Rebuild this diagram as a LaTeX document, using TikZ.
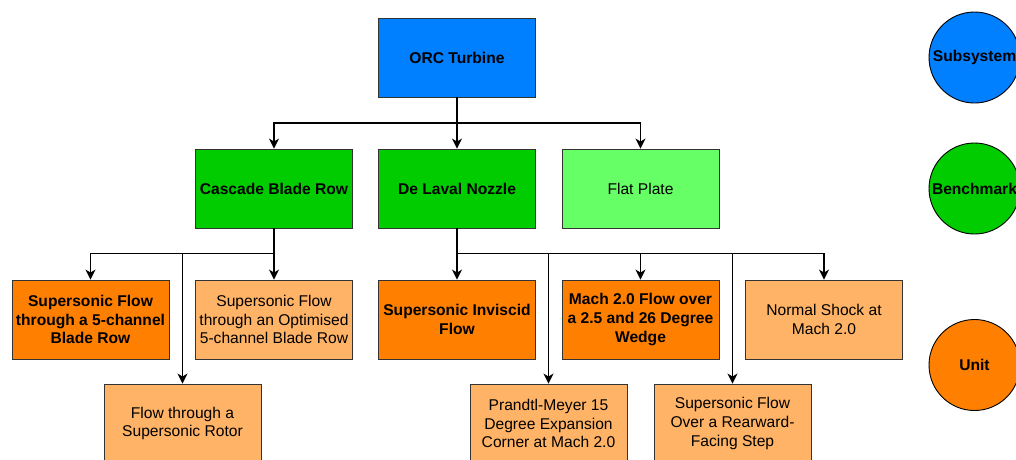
\documentclass[tikz,border=0pt]{standalone}
\usepackage{fontspec}
\setmainfont{Liberation Sans}
\usetikzlibrary{arrows.meta}
\definecolor{subsys}{HTML}{007FFF}
\definecolor{bench}{HTML}{00CC00}
\definecolor{benchlt}{HTML}{66FF66}
\definecolor{unitdk}{HTML}{FF8000}
\definecolor{unitlt}{HTML}{FFB366}
\definecolor{edge}{HTML}{333333}
\tikzset{
  box/.style={draw=edge, line width=0.9pt, minimum width=157pt, minimum height=79pt,
    inner sep=0pt, align=center, font=\fontsize{15.6}{18.6}\selectfont},
  keybox/.style={box, font=\fontsize{15.6}{18.6}\selectfont\bfseries},
  legend/.style={draw=black, line width=0.9pt, circle, minimum size=91pt, inner sep=0pt,
    font=\fontsize{15.6}{18.6}\selectfont\bfseries},
  arr/.style={draw=black, line width=1.1pt, -{Stealth[length=10pt,width=10pt,inset=3pt]}},
}
\begin{document}
\begin{tikzpicture}[x=1pt,y=-1pt]
\useasboundingbox (0,0) rectangle (1016,459);
\clip (0,0) rectangle (1016,459);

% subsystem
\node[keybox, fill=subsys] (orc) at (457,57.5) {ORC Turbine};

% benchmarks
\node[keybox, fill=bench] (cas) at (274,188.5) {Cascade Blade Row};
\node[keybox, fill=bench] (dln) at (457,188.5) {De Laval Nozzle};
\node[box, fill=benchlt] (fp) at (640.5,188.5) {Flat Plate};

% units, first row
\node[keybox, fill=unitdk] (u1) at (90.5,319.5) {Supersonic Flow\\through a 5-channel\\Blade Row};
\node[box, fill=unitlt] (u2) at (274,319.5) {Supersonic Flow\\through an Optimised\\5-channel Blade Row};
\node[keybox, fill=unitdk] (u3) at (457,319.5) {Supersonic Inviscid\\Flow};
\node[keybox, fill=unitdk] (u4) at (640.5,319.5) {Mach 2.0 Flow over\\a 2.5 and 26 Degree\\Wedge};
\node[box, fill=unitlt] (u5) at (824,319.5) {Normal Shock at\\Mach 2.0};

% units, second row
\node[box, fill=unitlt] (r1) at (182.5,423.5) {Flow through a\\Supersonic Rotor};
\node[box, fill=unitlt] (r2) at (548.5,423.5) {Prandtl-Meyer 15\\Degree Expansion\\Corner at Mach 2.0};
\node[box, fill=unitlt] (r3) at (732.5,423.5) {Supersonic Flow\\Over a Rearward-\\Facing Step};

% legend
\node[legend, fill=subsys] (lsub) at (974.5,57.5) {Subsystem};
\node[legend, fill=bench] (lbench) at (974.5,188.5) {Benchmark};
\node[legend, fill=unitdk] (lunit) at (974.5,365) {Unit};

% bus levels
\coordinate (bt) at (457,123);
\coordinate (bc) at (274,253.5);
\coordinate (bd) at (457,253.5);

% connectors
\draw[arr] (orc.south) -- (dln.north);
\draw[arr] (orc.south) -- (bt) -| (cas.north);
\draw[arr] (orc.south) -- (bt) -| (fp.north);

\draw[arr] (cas.south) -- (bc) -| (u1.north);
\draw[arr] (cas.south) -- (u2.north);
\draw[arr] (cas.south) -- (bc) -| (r1.north);

\draw[arr] (dln.south) -- (u3.north);
\draw[arr] (dln.south) -- (bd) -| (u4.north);
\draw[arr] (dln.south) -- (bd) -| (u5.north);
\draw[arr] (dln.south) -- (bd) -| (r2.north);
\draw[arr] (dln.south) -- (bd) -| (r3.north);
\end{tikzpicture}
\end{document}
